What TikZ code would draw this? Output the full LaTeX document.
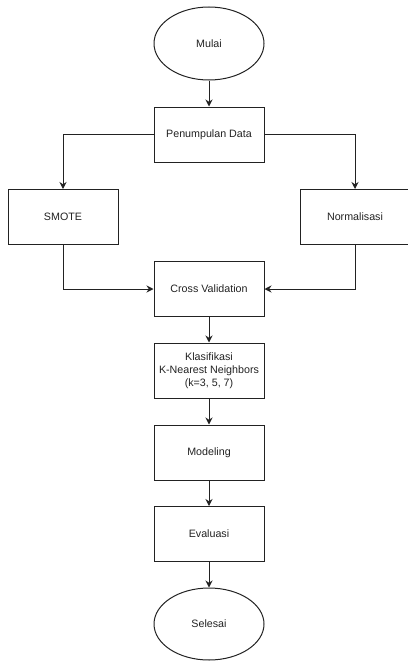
\documentclass[tikz,border=0pt]{standalone}
\usepackage{fontspec}
\setmainfont{Liberation Sans}
\usetikzlibrary{shapes.geometric,arrows.meta}
\definecolor{ink}{HTML}{222222}
\begin{document}
\begin{tikzpicture}[x=1pt,y=-1pt,
    every node/.style={font=\fontsize{10.7}{13}\selectfont, text=ink},
    proses/.style={draw=ink, line width=1pt, minimum width=110pt, minimum height=55pt, align=center, inner sep=1pt},
    terminal/.style={draw=ink, line width=1pt, ellipse, minimum width=110pt, minimum height=73pt, inner sep=0pt},
    alur/.style={draw=ink, line width=1pt, -{Stealth[length=7pt,width=7pt]}}]
                \useasboundingbox (0,0) rectangle (407,661);

                \node[terminal] (A) at (209,43.5) {Mulai};
                \node[proses] (B) at (209,134.5) {Penumpulan Data};
                \draw[alur] (A)--(B);

                \node[proses] (C) at (63,217) {SMOTE};
                \node[proses] (D) at (355,217) {Normalisasi};
                \draw[alur] (B.west) -| (C.north);
                \draw[alur] (B.east) -| (D.north);

                \node[proses] (E) at (209,289) {Cross Validation};
                \draw[alur] (C.south) |- (E.west);
                \draw[alur] (D.south) |- (E.east);

                \node[proses] (F) at (209,370.5) {Klasifikasi\\K-Nearest Neighbors\\(k=3, 5, 7)};
                \draw[alur] (E)--(F);

                \node[proses] (G) at (209,452.5) {Modeling};
                \draw[alur] (F)--(G);

                \node[proses] (H) at (209,534) {Evaluasi};
                \draw[alur] (G)--(H);

                \node[terminal, minimum height=72pt] (I) at (209,624) {Selesai};
                \draw[alur] (H)--(I);
            \end{tikzpicture}
\end{document}
